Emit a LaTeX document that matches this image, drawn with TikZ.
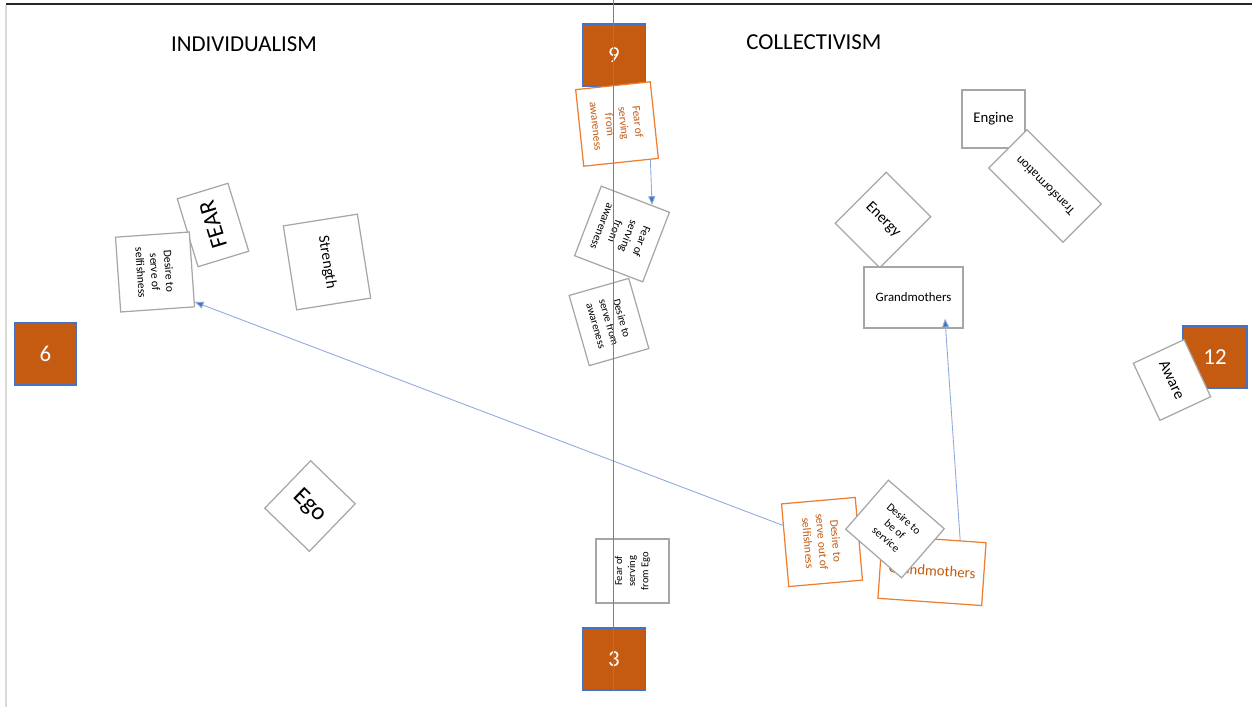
\documentclass[tikz,border=0pt]{standalone}
\usepackage{fontspec}
\setmainfont{Carlito}
\usepackage{xcolor}
\usetikzlibrary{arrows.meta}

\definecolor{rust}{HTML}{C55A11}
\definecolor{peach}{HTML}{ED7D31}
\definecolor{edgeblue}{HTML}{4472C4}
\definecolor{linkblue}{HTML}{8FAADC}
\definecolor{cardgrey}{HTML}{A6A6A6}

\begin{document}
\begin{tikzpicture}[
  x=0.02cm, y=-0.02cm,
  font=\fontsize{6.6}{8}\selectfont,
  hour/.style={draw=edgeblue, fill=rust, text=white, line width=0.8pt,
    minimum width=1.25cm, minimum height=1.24cm, inner sep=0pt,
    font=\fontsize{13}{15}\selectfont},
  card/.style={draw=cardgrey, fill=white, line width=0.7pt, inner sep=1pt,
    align=center},
  hot/.style={card, draw=peach, text=rust},
  head/.style={font=\fontsize{13}{15}\selectfont},
  link/.style={draw=linkblue, line width=0.5pt,
    -{Triangle[length=5pt, width=4pt, fill=edgeblue]}},
]
\useasboundingbox (0,0) rectangle (1252,707);

% frame edges
\draw[line width=1.2pt, black!85] (6,4) -- (1252,4);
\draw[line width=0.8pt, black!15] (6,5) -- (6,707);

% headings
\node[head] (indiv) at (244,44) {INDIVIDUALISM};
\node[head] (collect) at (814,42) {COLLECTIVISM};

% clock hours
\node[hour] (h9) at (614,55) {9};
\node[hour] (h6) at (45.5,354) {6};
\node[hour, minimum width=1.28cm] (h12) at (1215,357) {12};
\node[hour] (h3) at (614,659) {3};

% individualism side
\node[card, rotate=107, minimum width=1.42cm, minimum height=1.06cm,
  font=\fontsize{13.4}{15}\selectfont] (fear) at (213,225) {FEAR};
\node[card, rotate=-86, minimum width=1.5cm, minimum height=1.48cm]
  (selfish) at (155,272) {Desire to\\serve of\\selfishness};
\node[card, rotate=-81, minimum width=1.7cm, minimum height=1.5cm,
  font=\fontsize{8.8}{10}\selectfont] (strength) at (327,262) {Strength};
\node[card, rotate=-44, minimum width=1.24cm, minimum height=1.32cm,
  font=\fontsize{14}{16}\selectfont] (ego) at (310,506) {Ego};

% middle column
\node[hot, rotate=-84, minimum width=1.54cm, minimum height=1.5cm,
  font=\fontsize{6.5}{8}\selectfont] (fearaware) at (617,124)
  {Fear of\\serving\\from\\awareness};
\node[card, rotate=-111, minimum width=1.49cm, minimum height=1.46cm,
  font=\fontsize{6.5}{8}\selectfont] (fearaware2) at (622,234)
  {Fear of\\serving\\from\\awareness};
\node[card, rotate=-74, minimum width=1.46cm, minimum height=1.24cm,
  font=\fontsize{6.2}{7.6}\selectfont] (serveaware) at (609,322)
  {Desire to\\serve from\\awareness};
\node[card, rotate=90, minimum width=1.28cm, minimum height=1.46cm,
  font=\fontsize{6}{7.5}\selectfont] (fearego) at (632.5,571)
  {Fear of\\serving\\from Ego};

% collectivism side
\node[card, minimum width=1.26cm, minimum height=1.16cm,
  font=\fontsize{8.4}{10}\selectfont] (engine) at (993.5,119) {Engine};
\node[card, rotate=135, minimum width=2.1cm, minimum height=1.08cm,
  font=\fontsize{7.2}{9}\selectfont] (transform) at (1045,186) {Transformation};
\node[card, rotate=-45, minimum width=1.26cm, minimum height=1.44cm,
  font=\fontsize{8.8}{10}\selectfont] (energy) at (883,220) {Energy};
\node[card, minimum width=1.98cm, minimum height=1.22cm,
  font=\fontsize{7.3}{9}\selectfont] (grandma) at (913.5,297.5) {Grandmothers};
\node[card, rotate=-65, minimum width=1.26cm, minimum height=1.12cm,
  font=\fontsize{9}{10}\selectfont] (aware) at (1172,380) {Aware};

% bottom right cluster
\node[hot, rotate=-85, minimum width=1.66cm, minimum height=1.48cm]
  (serveout) at (822,542) {Desire to\\serve out of\\selfishness};
\node[hot, rotate=-4, minimum width=2.08cm, minimum height=1.26cm,
  font=\fontsize{8.4}{10}\selectfont] (grandma2) at (932,570.5) {Grandmothers};
\node[card, rotate=-41, minimum width=1.48cm, minimum height=1.3cm,
  font=\fontsize{6.4}{7.8}\selectfont] (beservice) at (895,529)
  {Desire to\\be of\\service};

% links
\draw[link] (fearaware.37) -- (fearaware2.155);
\draw[link] (serveout.242) -- (selfish.49);
\draw[link] (grandma2.51) -- ([shift={(31.5,-10)}]grandma.south);

% axis through 9 and 3
\coordinate (axtop) at (613,0);
\coordinate (axbot) at (613,690);
\draw[line width=0.45pt, black!50] (axtop) -- (axbot);
\end{tikzpicture}
\end{document}
